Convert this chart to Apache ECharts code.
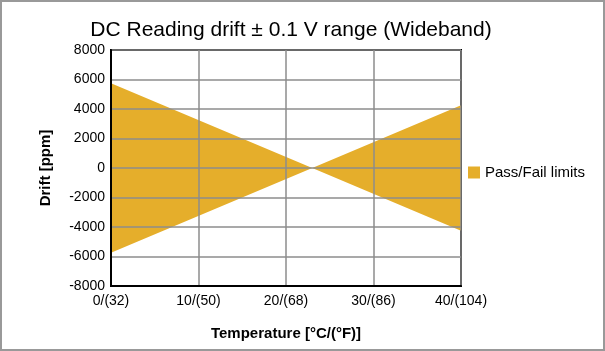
<!DOCTYPE html>
<html>
<head>
<meta charset="utf-8">
<script src="https://cdn.jsdelivr.net/npm/echarts@6/dist/echarts.min.js"></script>
<style>
  html, body { margin: 0; padding: 0; background: #fff; }
  #chart { width: 605px; height: 351px; box-sizing: border-box; border: 2px solid #999; }
</style>
</head>
<body>
<div id="chart"></div>
<script>
// temperature in °C where the limit lines change direction
var temps = [0, 23, 40];
var upperLimit = [5750, 0, 4250];
var lowerLimit = [-5750, 0, -4250];
var tickLabels = { 0: "0/(32)", 10: "10/(50)", 20: "20/(68)", 30: "30/(86)", 40: "40/(104)" };

var fillColor = "#E5AE2B";
var font = "Liberation Sans, Arial, sans-serif";

function pairs(ys) {
  return temps.map(function (t, i) { return [t, ys[i]]; });
}

var myChart = echarts.init(document.getElementById("chart"));
var option = {
  animation: false,
  title: {
    text: "DC Reading drift \u00b1 0.1 V range (Wideband)",
    left: 284,
    top: 13,
    textAlign: "center",
    textStyle: { fontFamily: font, fontSize: 21, fontWeight: "normal", color: "#000" },
  },
  legend: {
    data: ["Pass/Fail limits"],
    left: 461,
    top: 158,
    itemWidth: 12,
    itemHeight: 12,
    itemGap: 4,
    icon: "rect",
    textStyle: { fontFamily: font, fontSize: 15, color: "#000" },
  },
  grid: {
    left: 109,
    top: 48,
    width: 350,
    height: 236,
    show: true,
    borderColor: "#000",
    borderWidth: 2,
    backgroundColor: "#fff",
  },
  xAxis: {
    type: "value",
    min: 0,
    max: 40,
    interval: 10,
    z: 5,
    name: "Temperature [\u00b0C/(\u00b0F)]",
    nameLocation: "middle",
    nameGap: 40,
    nameTextStyle: { fontFamily: font, fontSize: 15, fontWeight: "bold", color: "#000" },
    axisLine: { onZero: false, lineStyle: { color: "#000", width: 2 } },
    axisTick: { show: false },
    axisLabel: {
      fontFamily: font,
      fontSize: 14,
      color: "#000",
      margin: 8,
      formatter: function (v) { return tickLabels[v]; },
    },
    splitLine: { show: true, lineStyle: { color: "#8c8c8c", width: 1.5 } },
  },
  yAxis: {
    type: "value",
    min: -8000,
    max: 8000,
    interval: 2000,
    z: 5,
    name: "Drift [ppm]",
    nameLocation: "middle",
    nameGap: 58,
    nameTextStyle: { fontFamily: font, fontSize: 15, fontWeight: "bold", color: "#000" },
    axisLine: { show: true, onZero: false, lineStyle: { color: "#000", width: 2 } },
    axisTick: { show: false },
    axisLabel: {
      fontFamily: font,
      fontSize: 14,
      color: "#000",
      margin: 6,
      formatter: function (v) { return String(v); },
    },
    splitLine: { show: true, lineStyle: { color: "#8c8c8c", width: 1.5 } },
  },
  series: [
    {
      name: "Pass/Fail limits",
      type: "line",
      data: pairs(upperLimit),
      symbol: "none",
      lineStyle: { width: 0 },
      itemStyle: { color: fillColor },
      areaStyle: { color: fillColor, opacity: 1, origin: 0 },
    },
    {
      name: "Pass/Fail limits",
      type: "line",
      data: pairs(lowerLimit),
      symbol: "none",
      lineStyle: { width: 0 },
      itemStyle: { color: fillColor },
      areaStyle: { color: fillColor, opacity: 1, origin: 0 },
    },
  ],
};
myChart.setOption(option);
</script>
</body>
</html>
